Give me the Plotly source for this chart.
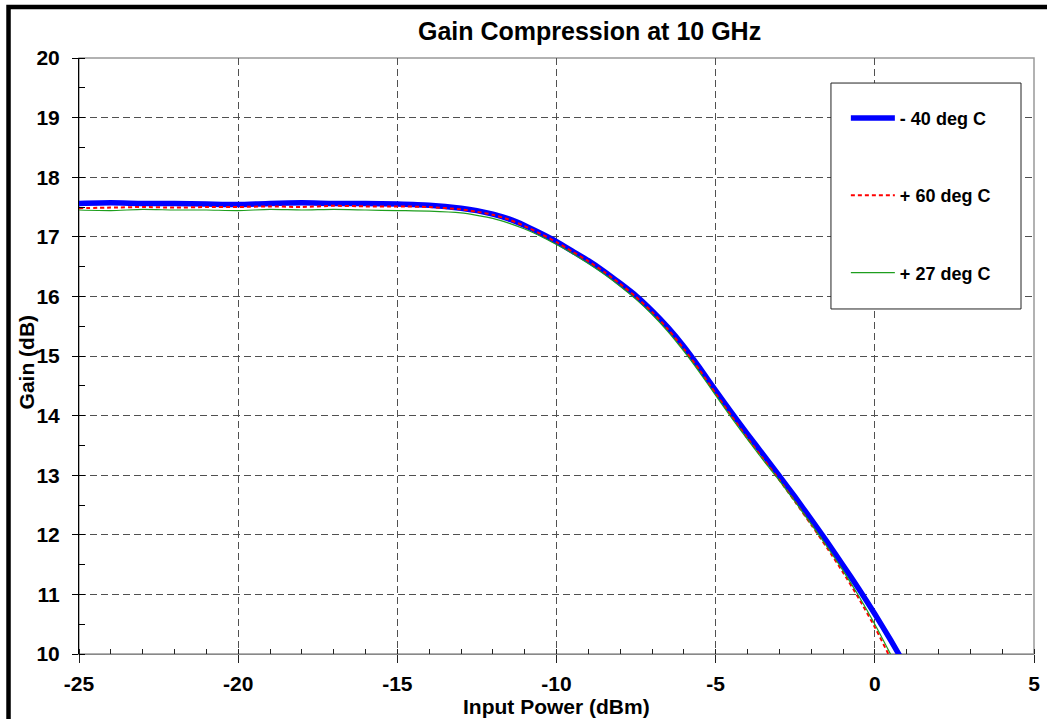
import plotly.graph_objects as go

# Input power sweep (dBm) and measured gain (dB) for each temperature
pin_m40 = [-25, -24, -23, -22, -21, -20, -19, -18, -17, -16, -15, -14, -13, -12.5, -12,
           -11.5, -11, -10.5, -10, -9.5, -9, -8.5, -8, -7.5, -7, -6.5, -6, -5.5, -5,
           -4.5, -4, -3.5, -3, -2.5, -2, -1.5, -1, -0.5, 0, 0.5, 1]
gain_m40 = [17.56, 17.57, 17.56, 17.56, 17.55, 17.54, 17.56, 17.57, 17.56, 17.56, 17.55,
            17.53, 17.48, 17.44, 17.38, 17.30, 17.19, 17.06, 16.92, 16.76, 16.60, 16.42,
            16.22, 16.01, 15.76, 15.48, 15.16, 14.80, 14.42, 14.05, 13.69, 13.34, 12.99,
            12.63, 12.26, 11.88, 11.49, 11.09, 10.67, 10.23, 9.77]

pin_p60 = [-25, -24, -23, -22, -21, -20, -19, -18, -17, -16, -15, -14, -13, -12.5, -12,
           -11.5, -11, -10.5, -10, -9.5, -9, -8.5, -8, -7.5, -7, -6.5, -6, -5.5, -5,
           -4.5, -4, -3.5, -3, -2.5, -2, -1.5, -1, -0.5, 0, 0.5, 1]
gain_p60 = [17.48, 17.49, 17.50, 17.49, 17.50, 17.50, 17.51, 17.50, 17.52, 17.51, 17.51,
            17.50, 17.46, 17.42, 17.37, 17.29, 17.18, 17.05, 16.91, 16.75, 16.59, 16.41,
            16.21, 15.99, 15.74, 15.45, 15.12, 14.76, 14.37, 13.99, 13.62, 13.27, 12.92,
            12.55, 12.17, 11.78, 11.37, 10.93, 10.45, 9.92, 9.38]

pin_p27 = [-25, -24, -23, -22, -21, -20, -19, -18, -17, -16, -15, -14, -13, -12.5, -12,
           -11.5, -11, -10.5, -10, -9.5, -9, -8.5, -8, -7.5, -7, -6.5, -6, -5.5, -5,
           -4.5, -4, -3.5, -3, -2.5, -2, -1.5, -1, -0.5, 0, 0.5, 1]
gain_p27 = [17.45, 17.44, 17.46, 17.45, 17.45, 17.44, 17.46, 17.45, 17.46, 17.45, 17.44,
            17.43, 17.40, 17.36, 17.31, 17.23, 17.13, 17.01, 16.87, 16.72, 16.55, 16.37,
            16.17, 15.95, 15.70, 15.41, 15.08, 14.72, 14.34, 13.96, 13.60, 13.25, 12.91,
            12.55, 12.18, 11.80, 11.40, 10.97, 10.50, 9.99, 9.46]

series_names = ["- 40 deg C", "+ 60 deg C", "+ 27 deg C"]

x_ticks = [-25, -20, -15, -10, -5, 0, 5]
y_ticks = [10, 11, 12, 13, 14, 15, 16, 17, 18, 19, 20]

FONT = "Liberation Sans, Arial, sans-serif"

fig = go.Figure()

fig.add_trace(go.Scatter(
    x=pin_m40, y=gain_m40, mode="lines", name=series_names[0], legendgroup="a",
    line=dict(color="#0000FF", width=5.5, shape="spline", smoothing=0.6),
))
fig.add_trace(go.Scatter(
    x=pin_p60, y=gain_p60, mode="lines", name=series_names[1], legendgroup="b",
    line=dict(color="#FF0000", width=2, dash="4px,3px", shape="spline", smoothing=0.6),
))
fig.add_trace(go.Scatter(
    x=pin_p27, y=gain_p27, mode="lines", name=series_names[2], legendgroup="c",
    line=dict(color="#1e9e1e", width=1.2, shape="spline", smoothing=0.6),
))

grid = dict(showgrid=True, gridcolor="#505050", gridwidth=1, griddash="7px,4px")

fig.update_xaxes(
    range=[-25, 5], tickvals=x_ticks, ticktext=[str(v) for v in x_ticks],
    ticks="outside", ticklen=8, tickcolor="#222222", tickwidth=1,
    minor=dict(dtick=1, ticks="inside", ticklen=5, tickcolor="#222222", showgrid=False),
    showline=True, linecolor="#888888", linewidth=1, zeroline=False,
    tickfont=dict(family=FONT, size=21, color="black", weight="bold"),
    ticklabelstandoff=3,
    **grid,
)
fig.update_yaxes(
    range=[10, 20], tickvals=y_ticks, ticktext=[str(v) for v in y_ticks],
    ticks="outside", ticklen=6, tickcolor="#000000", tickwidth=1,
    minor=dict(dtick=0.5, ticks="inside", ticklen=6, tickcolor="#000000", showgrid=False),
    showline=True, linecolor="#000000", linewidth=1, zeroline=False,
    tickfont=dict(family=FONT, size=21, color="black", weight="bold"),
    ticklabelstandoff=8,
    **grid,
)

shapes = [
    # grey plot frame on top and right
    dict(type="rect", xref="paper", yref="paper", x0=0, x1=1, y0=0, y1=1,
         line=dict(color="#999999", width=1.5), layer="below"),
    # white legend panel with thin black border
    dict(type="rect", xref="paper", yref="paper", x0=0.7874, x1=0.9864, y0=0.5789, y1=0.958,
         line=dict(color="#222222", width=1), fillcolor="white", layer="above"),
    # thick outer frame
    dict(type="rect", xref="paper", yref="paper", x0=-0.0738, x1=1.06, y0=-0.2, y1=1.0856,
         line=dict(color="black", width=4.5), layer="above"),
]

annotations = [
    dict(text="Gain Compression at 10 GHz", xref="paper", yref="paper", x=0.535, y=1.045,
         xanchor="center", yanchor="middle", showarrow=False,
         font=dict(family=FONT, size=25, color="black", weight="bold")),
    dict(text="Input Power (dBm)", xref="paper", yref="paper", x=0.5, y=-0.088,
         xanchor="center", yanchor="middle", showarrow=False,
         font=dict(family=FONT, size=21, color="black", weight="bold")),
    dict(text="Gain (dB)", xref="paper", yref="paper", x=-0.055, y=0.49,
         xanchor="center", yanchor="middle", textangle=-90, showarrow=False,
         font=dict(family=FONT, size=21, color="black", weight="bold")),
]

fig.update_layout(
    width=1047, height=719,
    margin=dict(l=79, r=13, t=58, b=65, autoexpand=False),
    paper_bgcolor="white", plot_bgcolor="white",
    showlegend=True,
    legend=dict(
        x=0.803, y=0.93, xanchor="left", yanchor="top",
        bgcolor="rgba(0,0,0,0)", borderwidth=0,
        font=dict(family=FONT, size=18, color="black", weight="bold"),
        tracegroupgap=51, itemwidth=44,
    ),
    shapes=shapes,
    annotations=annotations,
)

fig.write_html("out.html")
